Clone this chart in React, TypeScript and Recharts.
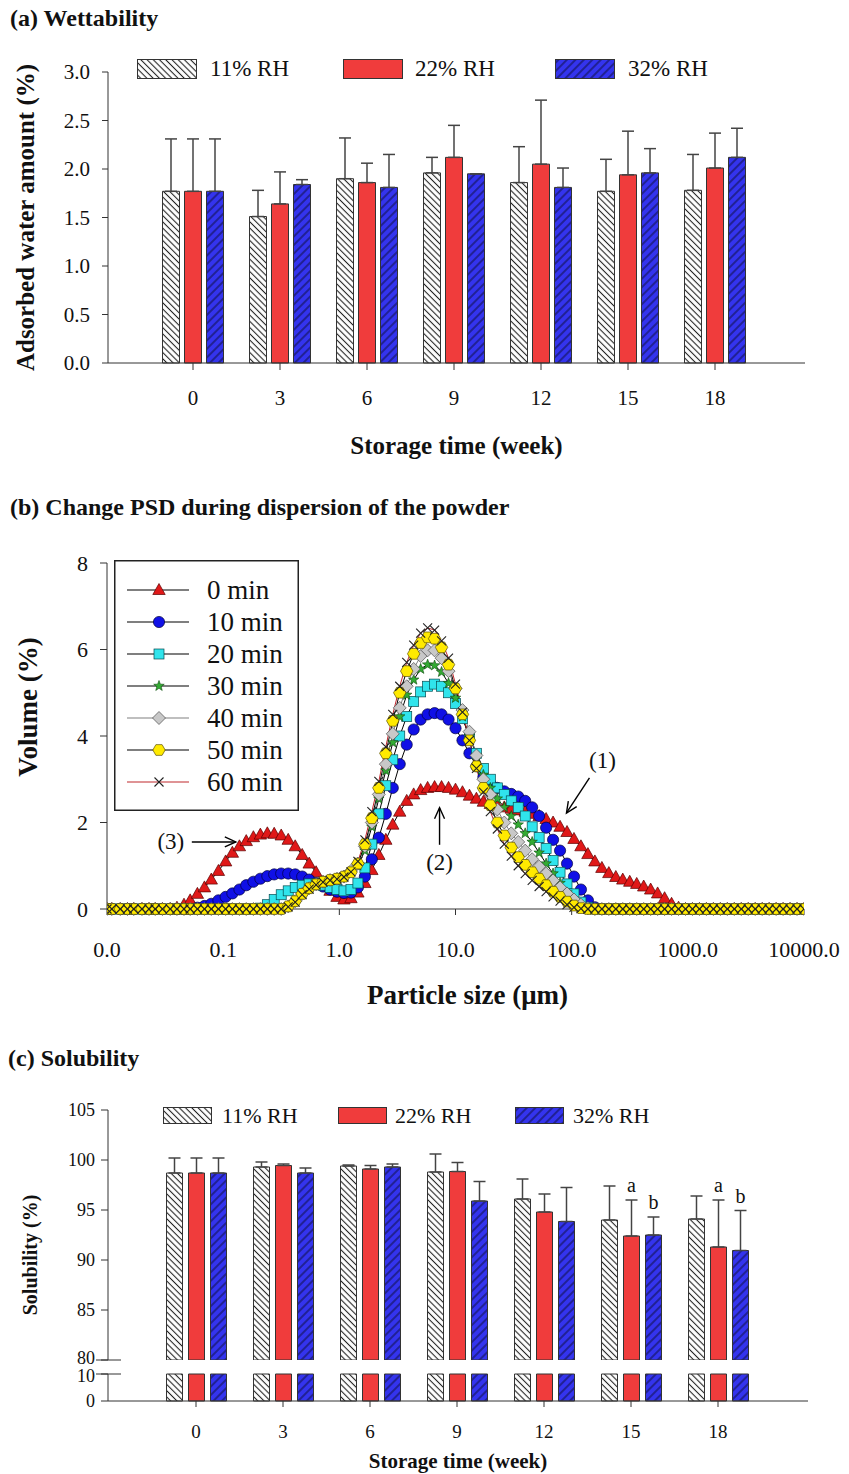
import React from "react";
import { Bar, BarChart, ErrorBar, LabelList, Legend, Line, LineChart, ReferenceDot, XAxis, YAxis } from "recharts";

const FONT = '"Liberation Serif", "Times New Roman", Times, serif';
const INK = "#111";
const AXIS = "#333";
const RED = "#f03c3c";
const BLUE = "#3434ee";

// shared categories
const weeks = ["0", "3", "6", "9", "12", "15", "18"];
const rhNames = ["11% RH", "22% RH", "32% RH"];
const rhFills = ["url(#hatch11)", RED, "url(#hatch32)"];

// (a) wettability: adsorbed water amount (%)
const wet11 = [1.77, 1.51, 1.9, 1.96, 1.86, 1.77, 1.78];
const wet22 = [1.77, 1.64, 1.86, 2.12, 2.05, 1.94, 2.01];
const wet32 = [1.77, 1.84, 1.81, 1.95, 1.81, 1.96, 2.12];
const wet11Err = [0.54, 0.27, 0.42, 0.16, 0.37, 0.33, 0.37];
const wet22Err = [0.54, 0.33, 0.2, 0.33, 0.66, 0.45, 0.36];
const wet32Err = [0.54, 0.05, 0.34, 0, 0.2, 0.25, 0.3];
const wetTicks = [0, 0.5, 1, 1.5, 2, 2.5, 3];

// (c) solubility (%)
const sol11 = [98.7, 99.3, 99.4, 98.8, 96.1, 94.0, 94.1];
const sol22 = [98.7, 99.45, 99.1, 98.85, 94.8, 92.4, 91.3];
const sol32 = [98.7, 98.7, 99.3, 95.9, 93.85, 92.5, 90.95];
const sol11Err = [1.5, 0.5, 0.1, 1.8, 2.0, 3.4, 2.3];
const sol22Err = [1.5, 0.15, 0.35, 0.9, 1.8, 3.6, 4.7];
const sol32Err = [1.5, 0.5, 0.3, 1.95, 3.4, 1.8, 4.0];
const sig22 = ["", "", "", "", "", "a", "a"];
const sig32 = ["", "", "", "", "", "b", "b"];
const SOL_BREAK_HIGH = 80;
const SOL_BREAK_LOW = 10;
const solTopTicks = [80, 85, 90, 95, 100, 105];
const solBottomTicks = [0, 10];

// (b) particle size distribution, size classes (µm) and volume (%)
const psdSizes = [
  0.01, 0.011, 0.013, 0.015, 0.017, 0.02, 0.023, 0.026, 0.03, 0.035,
  0.04, 0.046, 0.052, 0.06, 0.069, 0.079, 0.091, 0.105, 0.12, 0.138,
  0.158, 0.182, 0.209, 0.24, 0.275, 0.316, 0.363, 0.417, 0.479, 0.55,
  0.631, 0.724, 0.832, 0.955, 1.096, 1.259, 1.445, 1.66, 1.905, 2.188,
  2.512, 2.884, 3.311, 3.802, 4.365, 5.012, 5.754, 6.607, 7.586, 8.71,
  10, 11.48, 13.18, 15.14, 17.38, 19.95, 22.91, 26.3, 30.2, 34.67,
  39.81, 45.71, 52.48, 60.26, 69.18, 79.43, 91.2, 104.7, 120.2, 138,
  158.5, 182, 208.9, 239.9, 275.4, 316.2, 363.1, 416.9, 478.6, 549.5,
  631, 724.4, 831.8, 955, 1096, 1259, 1445, 1660, 1905, 2188,
  2512, 2884, 3311, 3802, 4365, 5012, 5754, 6607, 7586, 8710,
  10000,
];
const psd0 = [
  0, 0, 0, 0, 0, 0, 0, 0, 0, 0,
  0.03, 0.1, 0.2, 0.35, 0.5, 0.68, 0.88, 1.1, 1.3, 1.45,
  1.57, 1.66, 1.72, 1.75, 1.74, 1.7, 1.6, 1.45, 1.25, 1.05,
  0.85, 0.62, 0.42, 0.28, 0.22, 0.25, 0.38, 0.6, 0.9, 1.25,
  1.6, 1.95, 2.25, 2.5, 2.65, 2.75, 2.8, 2.82, 2.82, 2.8,
  2.76, 2.7, 2.62, 2.55, 2.48, 2.43, 2.39, 2.35, 2.32, 2.28,
  2.25, 2.2, 2.15, 2.08, 2.0, 1.9, 1.78, 1.62, 1.45, 1.27,
  1.1, 0.95, 0.83, 0.74, 0.68, 0.63, 0.58, 0.52, 0.45, 0.36,
  0.25, 0.12, 0.03, 0, 0, 0, 0, 0, 0, 0,
  0, 0, 0, 0, 0, 0, 0, 0, 0, 0,
  0,
];
const psd10 = [
  0, 0, 0, 0, 0, 0, 0, 0, 0, 0,
  0, 0, 0, 0.03, 0.07, 0.12, 0.2, 0.28, 0.36, 0.45,
  0.55, 0.63, 0.7, 0.76, 0.8, 0.82, 0.82, 0.8, 0.75, 0.68,
  0.6, 0.52, 0.45, 0.4, 0.37, 0.38, 0.5, 0.75, 1.15, 1.65,
  2.2, 2.8, 3.35, 3.8, 4.15, 4.38, 4.5, 4.53, 4.5, 4.38,
  4.18, 3.9, 3.6, 3.3, 3.05, 2.9, 2.8, 2.72, 2.66, 2.6,
  2.5, 2.35, 2.15, 1.88, 1.6, 1.35, 1.05, 0.75, 0.45, 0.2,
  0.04, 0, 0, 0, 0, 0, 0, 0, 0, 0,
  0, 0, 0, 0, 0, 0, 0, 0, 0, 0,
  0, 0, 0, 0, 0, 0, 0, 0, 0, 0,
  0,
];
const psd20 = [
  0, 0, 0, 0, 0, 0, 0, 0, 0, 0,
  0, 0, 0, 0, 0, 0, 0, 0, 0, 0,
  0, 0, 0.02, 0.1, 0.22, 0.33, 0.42, 0.5, 0.55, 0.58,
  0.58, 0.55, 0.5, 0.45, 0.42, 0.45, 0.6, 0.95, 1.5, 2.2,
  2.85, 3.45, 4.0, 4.45, 4.8, 5.02, 5.15, 5.2, 5.15, 5.0,
  4.75, 4.4, 4.0, 3.6, 3.25, 3.0, 2.8, 2.65, 2.5, 2.35,
  2.15, 1.9, 1.65, 1.4, 1.12, 0.85, 0.58, 0.35, 0.16, 0.04,
  0, 0, 0, 0, 0, 0, 0, 0, 0, 0,
  0, 0, 0, 0, 0, 0, 0, 0, 0, 0,
  0, 0, 0, 0, 0, 0, 0, 0, 0, 0,
  0,
];
const psd30 = [
  0, 0, 0, 0, 0, 0, 0, 0, 0, 0,
  0, 0, 0, 0, 0, 0, 0, 0, 0, 0,
  0, 0, 0, 0, 0, 0, 0.06, 0.18, 0.35, 0.48,
  0.57, 0.63, 0.67, 0.7, 0.74, 0.85, 1.0, 1.35, 1.9, 2.55,
  3.2, 3.85, 4.45, 4.95, 5.3, 5.55, 5.65, 5.63, 5.48, 5.22,
  4.88, 4.45, 4.0, 3.55, 3.1, 2.8, 2.55, 2.35, 2.15, 1.95,
  1.75, 1.55, 1.3, 1.05, 0.82, 0.6, 0.38, 0.2, 0.07, 0,
  0, 0, 0, 0, 0, 0, 0, 0, 0, 0,
  0, 0, 0, 0, 0, 0, 0, 0, 0, 0,
  0, 0, 0, 0, 0, 0, 0, 0, 0, 0,
  0,
];
const psd40 = [
  0, 0, 0, 0, 0, 0, 0, 0, 0, 0,
  0, 0, 0, 0, 0, 0, 0, 0, 0, 0,
  0, 0, 0, 0, 0, 0, 0.06, 0.18, 0.35, 0.48,
  0.57, 0.63, 0.67, 0.7, 0.75, 0.88, 1.05, 1.45, 2.0, 2.65,
  3.35, 4.05, 4.65, 5.15, 5.55, 5.85, 5.98, 5.98, 5.8, 5.5,
  5.1, 4.6, 4.1, 3.55, 3.0, 2.65, 2.3, 2.0, 1.75, 1.55,
  1.35, 1.15, 0.98, 0.82, 0.66, 0.5, 0.36, 0.22, 0.1, 0.02,
  0, 0, 0, 0, 0, 0, 0, 0, 0, 0,
  0, 0, 0, 0, 0, 0, 0, 0, 0, 0,
  0, 0, 0, 0, 0, 0, 0, 0, 0, 0,
  0,
];
const psd50 = [
  0, 0, 0, 0, 0, 0, 0, 0, 0, 0,
  0, 0, 0, 0, 0, 0, 0, 0, 0, 0,
  0, 0, 0, 0, 0, 0, 0.06, 0.18, 0.35, 0.48,
  0.57, 0.63, 0.67, 0.7, 0.75, 0.85, 1.05, 1.5, 2.1, 2.8,
  3.6, 4.35, 5.0, 5.5, 5.9, 6.15, 6.28, 6.25, 6.05, 5.65,
  5.1, 4.5, 3.9, 3.3, 2.8, 2.4, 2.0, 1.7, 1.42, 1.2,
  1.02, 0.85, 0.7, 0.55, 0.4, 0.28, 0.17, 0.08, 0.02, 0,
  0, 0, 0, 0, 0, 0, 0, 0, 0, 0,
  0, 0, 0, 0, 0, 0, 0, 0, 0, 0,
  0, 0, 0, 0, 0, 0, 0, 0, 0, 0,
  0,
];
const psd60 = [
  0, 0, 0, 0, 0, 0, 0, 0, 0, 0,
  0, 0, 0, 0, 0, 0, 0, 0, 0, 0,
  0, 0, 0, 0, 0, 0, 0.05, 0.16, 0.33, 0.46,
  0.56, 0.62, 0.66, 0.69, 0.74, 0.86, 1.1, 1.6, 2.25, 2.95,
  3.75, 4.5, 5.15, 5.7, 6.1, 6.38, 6.5, 6.45, 6.2, 5.8,
  5.2, 4.55, 3.9, 3.25, 2.7, 2.25, 1.85, 1.5, 1.22, 1.0,
  0.82, 0.66, 0.52, 0.4, 0.28, 0.18, 0.1, 0.04, 0.01, 0,
  0, 0, 0, 0, 0, 0, 0, 0, 0, 0,
  0, 0, 0, 0, 0, 0, 0, 0, 0, 0,
  0, 0, 0, 0, 0, 0, 0, 0, 0, 0,
  0,
];
const psdNames = ["0 min", "10 min", "20 min", "30 min", "40 min", "50 min", "60 min"];
const psdSeries = [psd0, psd10, psd20, psd30, psd40, psd50, psd60];
const psdMarkers = ["triangle", "circle", "square", "star", "diamond", "hexagon", "cross"];
const psdLineColors = ["#000", "#000", "#000", "#000", "#808080", "#000", "#c0282d"];
const psdXTicks = [0.01, 0.1, 1, 10, 100, 1000, 10000];
const psdYTicks = [0, 2, 4, 6, 8];
const psdNotes = [
  { text: "(1)", size: 90.2, volume: 2.22, kind: "diag" },
  { text: "(2)", size: 7.29, volume: 2.34, kind: "up" },
  { text: "(3)", size: 0.1285, volume: 1.55, kind: "right" },
];

const wetData = weeks.map((week, i) => ({
  week,
  rh11: wet11[i],
  rh22: wet22[i],
  rh32: wet32[i],
  err11: [0, wet11Err[i]],
  err22: [0, wet22Err[i]],
  err32: [0, wet32Err[i]],
}));

const solData = weeks.map((week, i) => ({
  week,
  rh11: sol11[i],
  rh22: sol22[i],
  rh32: sol32[i],
  err11: [0, sol11Err[i]],
  err22: [0, sol22Err[i]],
  err32: [0, sol32Err[i]],
  sig22: sig22[i],
  sig32: sig32[i],
}));

const psdData = psdSizes.map((size, i) => {
  const row: any = { size };
  psdSeries.forEach((s, k) => {
    row[`m${k}`] = s[i];
  });
  return row;
});

function renderMarker(kind: string, cx: number, cy: number, key: string) {
  switch (kind) {
    case "triangle":
      return <polygon key={key} points={`${cx},${cy - 6.5} ${cx - 6.2},${cy + 4.5} ${cx + 6.2},${cy + 4.5}`} fill="#e01818" stroke="#5a0000" strokeWidth={0.7} />;
    case "circle":
      return <circle key={key} cx={cx} cy={cy} r={5.6} fill="#1010e6" stroke="#00003c" strokeWidth={0.7} />;
    case "square":
      return <rect key={key} x={cx - 5} y={cy - 5} width={10} height={10} fill="#30e4ec" stroke="#064c50" strokeWidth={0.7} />;
    case "star": {
      const pts: string[] = [];
      for (let j = 0; j < 10; j++) {
        const r = j % 2 === 0 ? 5.5 : 2.3;
        const a = -Math.PI / 2 + (j * Math.PI) / 5;
        pts.push(`${cx + r * Math.cos(a)},${cy + r * Math.sin(a)}`);
      }
      return <polygon key={key} points={pts.join(" ")} fill="#33aa33" stroke="#0b4a0b" strokeWidth={0.6} />;
    }
    case "diamond":
      return <polygon key={key} points={`${cx},${cy - 6.5} ${cx + 6.5},${cy} ${cx},${cy + 6.5} ${cx - 6.5},${cy}`} fill="#c8c8c8" stroke="#4d4d4d" strokeWidth={0.7} />;
    case "hexagon": {
      const pts: string[] = [];
      for (let j = 0; j < 6; j++) {
        const a = (j * Math.PI) / 3;
        pts.push(`${cx + 6.2 * Math.cos(a)},${cy + 6.2 * Math.sin(a)}`);
      }
      return <polygon key={key} points={pts.join(" ")} fill="#ffea00" stroke="#5c5000" strokeWidth={0.7} />;
    }
    default:
      return (
        <g key={key} stroke="#222" strokeWidth={1.1}>
          <line x1={cx - 4.5} y1={cy - 4.5} x2={cx + 4.5} y2={cy + 4.5} />
          <line x1={cx - 4.5} y1={cy + 4.5} x2={cx + 4.5} y2={cy - 4.5} />
        </g>
      );
  }
}

const xTitle = (text: string, fontSize: number, dy: number, dx = 0) => (props: any) => {
  const vb = props.viewBox || {};
  return (
    <text x={vb.x + vb.width / 2 + dx} y={vb.y + dy} textAnchor="middle" dominantBaseline="central" fontSize={fontSize} fontWeight="bold" fontFamily={FONT} fill={INK}>
      {text}
    </text>
  );
};

const yTitle = (text: string, fontSize: number, cx: number, dy = 0) => (props: any) => {
  const vb = props.viewBox || {};
  const cy = vb.y + vb.height / 2 + dy;
  return (
    <text x={cx} y={cy} transform={`rotate(-90 ${cx} ${cy})`} textAnchor="middle" dominantBaseline="central" fontSize={fontSize} fontWeight="bold" fontFamily={FONT} fill={INK}>
      {text}
    </text>
  );
};

// y tick of the broken solubility axis; the break value gets a long mark across the axis
function BreakTick(props: any) {
  const { x, y, payload, breakAt, fontSize, labelShift } = props;
  const axisX = x + 13;
  const isBreak = payload.value === breakAt;
  return (
    <g>
      <text x={x} y={y + (isBreak ? labelShift : 0)} textAnchor="end" dominantBaseline="central" fontSize={fontSize} fontFamily={FONT} fill={INK}>
        {payload.value}
      </text>
      {isBreak ? <line x1={axisX - 12} x2={axisX + 13} y1={y} y2={y} stroke={AXIS} strokeWidth={1} /> : null}
    </g>
  );
}

function RhLegend({ boxX, textX, boxW, boxH, fontSize }: any) {
  return (
    <div style={{ position: "relative", width: 849, height: boxH }}>
      {rhNames.map((name, i) => (
        <React.Fragment key={name}>
          <svg style={{ position: "absolute", left: boxX[i], top: 0 }} width={boxW} height={boxH}>
            <rect x={0.5} y={0.5} width={boxW - 1} height={boxH - 1} fill={rhFills[i]} stroke={AXIS} />
          </svg>
          <span style={{ position: "absolute", left: textX[i], top: 0, lineHeight: `${boxH}px`, fontSize, fontFamily: FONT, color: INK, whiteSpace: "nowrap" }}>
            {name}
          </span>
        </React.Fragment>
      ))}
    </div>
  );
}

function PsdLegend() {
  return (
    <svg width={185} height={251} style={{ display: "block" }}>
      <rect x={0.75} y={0.75} width={183.5} height={249.5} fill="#fff" stroke="#222" strokeWidth={1.5} />
      {psdNames.map((name, k) => {
        const y = 30 + 32 * k;
        return (
          <g key={name}>
            <line x1={13} x2={75} y1={y} y2={y} stroke={psdLineColors[k]} strokeWidth={1.2} />
            {renderMarker(psdMarkers[k], 45, y, `lg-${k}`)}
            <text x={93} y={y} dominantBaseline="central" fontSize={27} fontFamily={FONT} fill={INK}>
              {name}
            </text>
          </g>
        );
      })}
    </svg>
  );
}

function noteShape(note: any, cx: number, cy: number) {
  const txt = (x: number, y: number) => (
    <text x={x} y={y} textAnchor="middle" dominantBaseline="central" fontSize={23} fontFamily={FONT} fill={INK}>
      {note.text}
    </text>
  );
  if (note.kind === "right") {
    return (
      <g stroke="#000" strokeWidth={1.4} fill="none">
        <line x1={cx - 44} y1={cy} x2={cx} y2={cy} />
        <polyline points={`${cx - 11},${cy - 5} ${cx},${cy} ${cx - 11},${cy + 5}`} />
        <g stroke="none">{txt(cx - 65, cy)}</g>
      </g>
    );
  }
  if (note.kind === "up") {
    return (
      <g stroke="#000" strokeWidth={1.4} fill="none">
        <line x1={cx} y1={cy + 37} x2={cx} y2={cy} />
        <polyline points={`${cx - 5},${cy + 11} ${cx},${cy} ${cx + 5},${cy + 11}`} />
        <g stroke="none">{txt(cx, cy + 55)}</g>
      </g>
    );
  }
  const sx = cx + 23;
  const sy = cy - 35;
  const len = Math.hypot(sx - cx, sy - cy);
  const ux = (sx - cx) / len;
  const uy = (sy - cy) / len;
  const bx = cx + ux * 11;
  const by = cy + uy * 11;
  return (
    <g stroke="#000" strokeWidth={1.4} fill="none">
      <line x1={sx} y1={sy} x2={cx} y2={cy} />
      <polyline points={`${bx - uy * 5},${by + ux * 5} ${cx},${cy} ${bx + uy * 5},${by - ux * 5}`} />
      <g stroke="none">{txt(cx + 36, cy - 52)}</g>
    </g>
  );
}

const sigLabel = (values: number[], errs: number[]) => (p: any) => {
  const { x, y, width, height, value, index } = p;
  if (!value) return null;
  const pxPerUnit = height / (values[index] - SOL_BREAK_HIGH);
  const top = y - errs[index] * pxPerUnit;
  return (
    <text x={x + width / 2} y={top - 8} textAnchor="middle" fontSize={20} fontFamily={FONT} fill={INK}>
      {value}
    </text>
  );
};

const titleStyle: React.CSSProperties = {
  position: "absolute",
  left: 10,
  fontSize: 24,
  fontWeight: "bold",
  fontFamily: FONT,
  lineHeight: "26px",
  color: INK,
  whiteSpace: "nowrap",
};

export default function App() {
  const tickA = { fontSize: 21, fill: INK, fontFamily: FONT };
  const tickB = { fontSize: 22, fill: INK, fontFamily: FONT };
  const tickC = { fontSize: 19, fill: INK, fontFamily: FONT };
  return (
    <div style={{ position: "absolute", left: 0, top: 0, width: 849, height: 1474, background: "#fff", fontFamily: FONT }}>
      <svg width={0} height={0} style={{ position: "absolute" }}>
        <defs>
          <pattern id="hatch11" width={4.4} height={4.4} patternUnits="userSpaceOnUse" patternTransform="rotate(-45)">
            <rect width={4.4} height={4.4} fill="#fff" />
            <line x1={2.2} y1={0} x2={2.2} y2={4.4} stroke="#222" strokeWidth={1.1} />
          </pattern>
          <pattern id="hatch32" width={6} height={6} patternUnits="userSpaceOnUse" patternTransform="rotate(45)">
            <rect width={6} height={6} fill={BLUE} />
            <line x1={3} y1={0} x2={3} y2={6} stroke="#10104a" strokeWidth={1.1} />
          </pattern>
        </defs>
      </svg>

      <div style={{ ...titleStyle, top: 5 }}>(a) Wettability</div>
      <div style={{ position: "absolute", left: 0, top: 0 }}>
        <BarChart width={849} height={460} data={wetData} margin={{ top: 72, right: 44, bottom: 7, left: 0 }} barSize={17} barGap={5}>
          <XAxis dataKey="week" height={90} interval={0} padding={{ left: 41.5, right: 46.5 }} tickSize={7} tickMargin={20} tick={tickA} stroke={AXIS} label={{ content: xTitle("Storage time (week)", 25, 82) }} />
          <YAxis width={108} domain={[0, 3]} ticks={wetTicks} interval={0} tickFormatter={(v: number) => v.toFixed(1)} tickSize={6} tickMargin={12} tick={tickA} stroke={AXIS} label={{ content: yTitle("Adsorbed water amount (%)", 25, 25) }} />
          <Legend layout="horizontal" verticalAlign="middle" align="center" wrapperStyle={{ left: 0, top: 59, width: 849 }} content={() => <RhLegend boxX={[137, 343, 555]} textX={[210, 415, 628]} boxW={60} boxH={20} fontSize={23} />} />
          <Bar dataKey="rh11" name={rhNames[0]} fill={rhFills[0]} stroke={AXIS} isAnimationActive={false}>
            <ErrorBar dataKey="err11" width={6} stroke="#444" direction="y" />
          </Bar>
          <Bar dataKey="rh22" name={rhNames[1]} fill={rhFills[1]} stroke={AXIS} isAnimationActive={false}>
            <ErrorBar dataKey="err22" width={6} stroke="#444" direction="y" />
          </Bar>
          <Bar dataKey="rh32" name={rhNames[2]} fill={rhFills[2]} stroke={AXIS} isAnimationActive={false}>
            <ErrorBar dataKey="err32" width={6} stroke="#444" direction="y" />
          </Bar>
        </BarChart>
      </div>

      <div style={{ ...titleStyle, top: 494 }}>(b) Change PSD during dispersion of the powder</div>
      <div style={{ position: "absolute", left: 0, top: 520 }}>
        <LineChart width={849} height={500} data={psdData} margin={{ top: 43, right: 45, bottom: 11, left: 0 }}>
          <XAxis dataKey="size" type="number" scale="log" domain={[0.01, 10000]} allowDataOverflow ticks={psdXTicks} interval={0} tickFormatter={(v: number) => v.toFixed(1)} height={100} tickSize={6} tickMargin={26} tick={tickB} stroke={AXIS} label={{ content: xTitle("Particle size (μm)", 27, 86, 12) }} />
          <YAxis width={107} domain={[0, 8]} ticks={psdYTicks} interval={0} tickSize={7} tickMargin={12} tick={tickB} stroke={AXIS} label={{ content: yTitle("Volume (%)", 27, 28, -29) }} />
          <Legend layout="horizontal" verticalAlign="middle" align="center" wrapperStyle={{ left: 114, top: 40, width: 185, height: 251 }} content={() => <PsdLegend />} />
          {psdSeries.map((_, k) => (
            <Line
              key={psdNames[k]}
              dataKey={`m${k}`}
              name={psdNames[k]}
              type="linear"
              stroke={psdLineColors[k]}
              strokeWidth={1}
              dot={(p: any) => renderMarker(psdMarkers[k], p.cx, p.cy, `${k}-${p.index}`)}
              activeDot={false}
              isAnimationActive={false}
            />
          ))}
          {psdNotes.map((note) => (
            <ReferenceDot key={note.text} x={note.size} y={note.volume} r={0} shape={(p: any) => noteShape(note, p.cx, p.cy)} />
          ))}
        </LineChart>
      </div>

      <div style={{ ...titleStyle, top: 1045, left: 8 }}>(c) Solubility</div>
      <div style={{ position: "absolute", left: 0, top: 1080 }}>
        <BarChart width={849} height={290} data={solData} margin={{ top: 30, right: 41, bottom: 10, left: 0 }} barSize={16} barGap={6}>
          <XAxis dataKey="week" hide padding={{ left: 44.5, right: 46.5 }} />
          <YAxis width={108} domain={[SOL_BREAK_HIGH, 105]} allowDataOverflow ticks={solTopTicks} interval={0} tickSize={7} tickMargin={6} tick={<BreakTick breakAt={SOL_BREAK_HIGH} fontSize={18} labelShift={-2} />} stroke={AXIS} label={{ content: yTitle("Solubility (%)", 20, 30, 20) }} />
          <Legend layout="horizontal" verticalAlign="middle" align="center" wrapperStyle={{ left: 0, top: 27, width: 849 }} content={() => <RhLegend boxX={[163, 338, 515]} textX={[222, 395, 573]} boxW={49} boxH={17} fontSize={22} />} />
          <Bar dataKey="rh11" name={rhNames[0]} fill={rhFills[0]} stroke={AXIS} isAnimationActive={false}>
            <ErrorBar dataKey="err11" width={6} stroke="#444" direction="y" />
          </Bar>
          <Bar dataKey="rh22" name={rhNames[1]} fill={rhFills[1]} stroke={AXIS} isAnimationActive={false}>
            <ErrorBar dataKey="err22" width={6} stroke="#444" direction="y" />
            <LabelList dataKey="sig22" content={sigLabel(sol22, sol22Err)} />
          </Bar>
          <Bar dataKey="rh32" name={rhNames[2]} fill={rhFills[2]} stroke={AXIS} isAnimationActive={false}>
            <ErrorBar dataKey="err32" width={6} stroke="#444" direction="y" />
            <LabelList dataKey="sig32" content={sigLabel(sol32, sol32Err)} />
          </Bar>
        </BarChart>
      </div>
      <div style={{ position: "absolute", left: 0, top: 1364 }}>
        <BarChart width={849} height={110} data={solData} margin={{ top: 10, right: 41, bottom: 0, left: 0 }} barSize={16} barGap={6}>
          <XAxis dataKey="week" height={73} interval={0} padding={{ left: 44.5, right: 46.5 }} tickSize={6} tickMargin={18} tick={tickC} stroke={AXIS} label={{ content: xTitle("Storage time (week)", 21, 60) }} />
          <YAxis width={108} domain={[0, SOL_BREAK_LOW]} ticks={solBottomTicks} interval={0} tickSize={7} tickMargin={6} tick={<BreakTick breakAt={SOL_BREAK_LOW} fontSize={18} labelShift={2} />} stroke={AXIS} />
          <Bar dataKey={(d: any) => Math.min(d.rh11, SOL_BREAK_LOW)} fill={rhFills[0]} stroke={AXIS} isAnimationActive={false} />
          <Bar dataKey={(d: any) => Math.min(d.rh22, SOL_BREAK_LOW)} fill={rhFills[1]} stroke={AXIS} isAnimationActive={false} />
          <Bar dataKey={(d: any) => Math.min(d.rh32, SOL_BREAK_LOW)} fill={rhFills[2]} stroke={AXIS} isAnimationActive={false} />
        </BarChart>
      </div>
    </div>
  );
}
